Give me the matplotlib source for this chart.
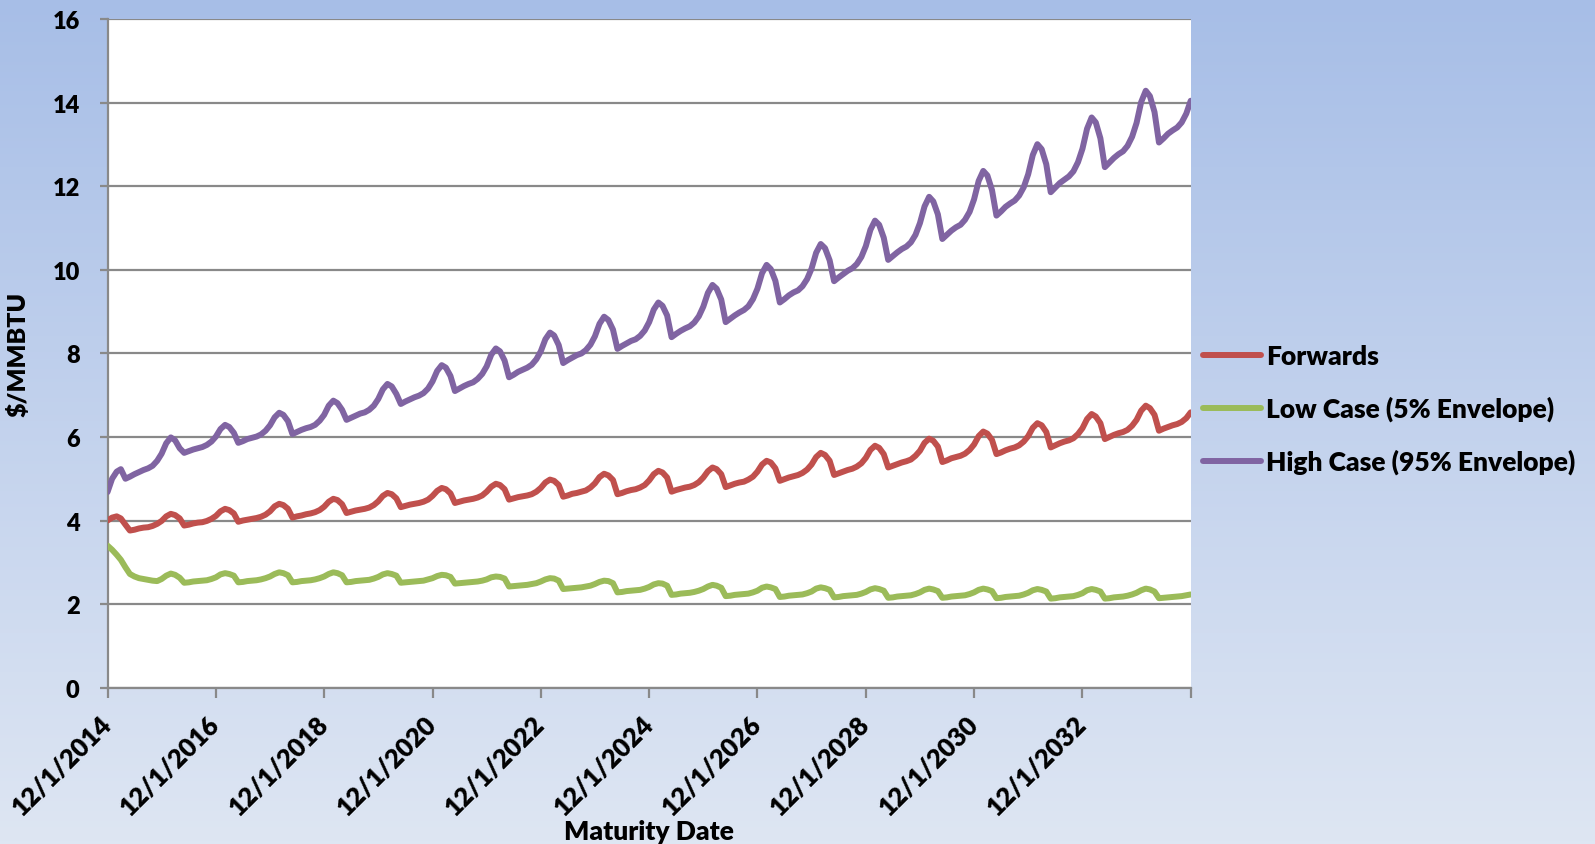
import numpy as np
import pandas as pd
import matplotlib
matplotlib.use('Agg')
import matplotlib.pyplot as plt

plt.rcParams['font.family'] = ['Lato', 'DejaVu Sans']
plt.rcParams['font.weight'] = 'heavy'
plt.rcParams['axes.labelweight'] = 'heavy'

# monthly maturities, 12/1/2014 .. 12/1/2034
dates = pd.date_range('2014-12-01', '2034-12-01', freq='MS')

forwards = [
    4.00, 4.07, 4.10, 4.05, 3.90,
    3.76, 3.78, 3.81, 3.83, 3.84, 3.87, 3.92, 3.99, 4.10, 4.16, 4.13, 4.05,
    3.88, 3.90, 3.93, 3.95, 3.96, 3.99, 4.04, 4.11, 4.22, 4.28, 4.25, 4.17,
    3.97, 4.00, 4.02, 4.04, 4.06, 4.09, 4.14, 4.22, 4.34, 4.40, 4.37, 4.28,
    4.07, 4.10, 4.12, 4.15, 4.17, 4.20, 4.25, 4.33, 4.45, 4.52, 4.49, 4.39,
    4.18, 4.21, 4.24, 4.26, 4.28, 4.31, 4.37, 4.46, 4.59, 4.66, 4.63, 4.53,
    4.32, 4.35, 4.38, 4.40, 4.42, 4.45, 4.50, 4.59, 4.71, 4.78, 4.75, 4.65,
    4.42, 4.45, 4.48, 4.50, 4.52, 4.55, 4.60, 4.69, 4.81, 4.88, 4.85, 4.75,
    4.50, 4.53, 4.56, 4.58, 4.60, 4.63, 4.69, 4.78, 4.91, 4.98, 4.95, 4.85,
    4.57, 4.60, 4.64, 4.66, 4.69, 4.72, 4.79, 4.89, 5.04, 5.12, 5.08, 4.97,
    4.63, 4.66, 4.70, 4.73, 4.75, 4.79, 4.85, 4.96, 5.11, 5.19, 5.15, 5.03,
    4.69, 4.73, 4.76, 4.79, 4.81, 4.85, 4.92, 5.03, 5.18, 5.27, 5.23, 5.11,
    4.80, 4.84, 4.88, 4.91, 4.93, 4.98, 5.05, 5.17, 5.34, 5.43, 5.39, 5.25,
    4.95, 4.99, 5.03, 5.06, 5.09, 5.14, 5.22, 5.34, 5.52, 5.62, 5.57, 5.43,
    5.09, 5.13, 5.17, 5.21, 5.24, 5.29, 5.37, 5.50, 5.69, 5.79, 5.74, 5.59,
    5.27, 5.31, 5.35, 5.39, 5.42, 5.46, 5.55, 5.67, 5.86, 5.96, 5.91, 5.77,
    5.40, 5.44, 5.49, 5.52, 5.55, 5.60, 5.69, 5.82, 6.02, 6.13, 6.08, 5.93,
    5.59, 5.63, 5.68, 5.72, 5.75, 5.80, 5.89, 6.02, 6.22, 6.33, 6.28, 6.12,
    5.75, 5.80, 5.85, 5.89, 5.92, 5.97, 6.07, 6.21, 6.43, 6.55, 6.49, 6.33,
    5.95, 6.00, 6.05, 6.09, 6.12, 6.17, 6.27, 6.41, 6.63, 6.75, 6.69, 6.53,
    6.15, 6.20, 6.24, 6.28, 6.31, 6.36, 6.45, 6.59,
]

low_case = [
    3.40, 3.30, 3.18, 3.06, 2.88,
    2.72, 2.66, 2.62, 2.60, 2.58, 2.56, 2.55, 2.60, 2.68, 2.73, 2.70, 2.63,
    2.51, 2.52, 2.54, 2.55, 2.56, 2.57, 2.60, 2.64, 2.71, 2.74, 2.72, 2.68,
    2.52, 2.53, 2.55, 2.56, 2.57, 2.59, 2.62, 2.66, 2.72, 2.76, 2.74, 2.69,
    2.52, 2.53, 2.55, 2.56, 2.57, 2.59, 2.62, 2.66, 2.72, 2.76, 2.74, 2.69,
    2.52, 2.53, 2.55, 2.56, 2.57, 2.58, 2.61, 2.65, 2.71, 2.74, 2.72, 2.68,
    2.51, 2.52, 2.53, 2.54, 2.55, 2.56, 2.59, 2.62, 2.67, 2.70, 2.69, 2.65,
    2.49, 2.50, 2.51, 2.52, 2.53, 2.54, 2.56, 2.59, 2.64, 2.66, 2.65, 2.61,
    2.42, 2.43, 2.44, 2.45, 2.46, 2.48, 2.50, 2.54, 2.59, 2.62, 2.61, 2.56,
    2.36, 2.37, 2.38, 2.39, 2.40, 2.42, 2.44, 2.48, 2.53, 2.56, 2.55, 2.50,
    2.28, 2.29, 2.31, 2.32, 2.33, 2.34, 2.37, 2.41, 2.47, 2.50, 2.49, 2.44,
    2.22, 2.23, 2.25, 2.26, 2.27, 2.29, 2.32, 2.36, 2.42, 2.46, 2.44, 2.39,
    2.19, 2.20, 2.22, 2.23, 2.24, 2.25, 2.28, 2.32, 2.39, 2.42, 2.40, 2.36,
    2.17, 2.18, 2.20, 2.21, 2.22, 2.23, 2.26, 2.30, 2.37, 2.40, 2.38, 2.34,
    2.16, 2.17, 2.19, 2.20, 2.21, 2.22, 2.25, 2.29, 2.35, 2.38, 2.36, 2.32,
    2.15, 2.16, 2.18, 2.19, 2.20, 2.21, 2.24, 2.28, 2.34, 2.37, 2.35, 2.31,
    2.15, 2.16, 2.18, 2.19, 2.20, 2.21, 2.24, 2.28, 2.34, 2.37, 2.35, 2.31,
    2.14, 2.15, 2.17, 2.18, 2.19, 2.20, 2.23, 2.27, 2.33, 2.36, 2.34, 2.30,
    2.13, 2.14, 2.16, 2.17, 2.18, 2.19, 2.22, 2.26, 2.33, 2.36, 2.34, 2.30,
    2.13, 2.14, 2.16, 2.17, 2.18, 2.20, 2.23, 2.27, 2.33, 2.37, 2.35, 2.30,
    2.14, 2.15, 2.16, 2.17, 2.18, 2.19, 2.21, 2.23,
]

high_case = [
    4.68, 5.00, 5.17, 5.23, 5.00,
    5.05, 5.11, 5.16, 5.21, 5.25, 5.31, 5.43, 5.60, 5.85, 5.99, 5.92, 5.73,
    5.62, 5.66, 5.70, 5.73, 5.76, 5.81, 5.89, 6.01, 6.19, 6.29, 6.24, 6.10,
    5.86, 5.90, 5.95, 5.98, 6.01, 6.06, 6.15, 6.28, 6.47, 6.58, 6.53, 6.38,
    6.07, 6.12, 6.17, 6.21, 6.24, 6.29, 6.39, 6.53, 6.75, 6.87, 6.81, 6.65,
    6.41, 6.46, 6.51, 6.56, 6.59, 6.65, 6.75, 6.91, 7.14, 7.27, 7.21, 7.03,
    6.79, 6.85, 6.90, 6.95, 6.99, 7.05, 7.16, 7.33, 7.58, 7.72, 7.66, 7.46,
    7.10, 7.16, 7.22, 7.27, 7.31, 7.39, 7.51, 7.69, 7.97, 8.12, 8.05, 7.83,
    7.43, 7.49, 7.56, 7.61, 7.66, 7.73, 7.86, 8.05, 8.34, 8.50, 8.43, 8.20,
    7.77, 7.84, 7.90, 7.96, 8.00, 8.08, 8.21, 8.41, 8.71, 8.88, 8.80, 8.57,
    8.11, 8.18, 8.24, 8.30, 8.34, 8.42, 8.55, 8.75, 9.05, 9.22, 9.14, 8.91,
    8.39, 8.47, 8.54, 8.60, 8.65, 8.74, 8.89, 9.12, 9.45, 9.64, 9.55, 9.29,
    8.75, 8.83, 8.91, 8.98, 9.04, 9.13, 9.30, 9.55, 9.92, 10.12, 10.02, 9.74,
    9.22, 9.30, 9.39, 9.46, 9.51, 9.61, 9.78, 10.03, 10.41, 10.62, 10.52, 10.23,
    9.73, 9.82, 9.90, 9.98, 10.04, 10.14, 10.31, 10.57, 10.96, 11.18, 11.08, 10.77,
    10.24, 10.33, 10.42, 10.50, 10.56, 10.66, 10.84, 11.12, 11.52, 11.75, 11.64, 11.33,
    10.74, 10.84, 10.94, 11.02, 11.08, 11.20, 11.39, 11.69, 12.13, 12.37, 12.26, 11.91,
    11.30, 11.40, 11.51, 11.59, 11.66, 11.78, 11.98, 12.29, 12.75, 13.01, 12.89, 12.53,
    11.86, 11.97, 12.08, 12.16, 12.24, 12.36, 12.58, 12.90, 13.38, 13.65, 13.53, 13.15,
    12.46, 12.57, 12.68, 12.77, 12.84, 12.97, 13.19, 13.52, 14.02, 14.29, 14.16, 13.78,
    13.05, 13.15, 13.26, 13.34, 13.41, 13.53, 13.74, 14.05,
]

series_names = ['Forwards', 'Low Case (5% Envelope)', 'High Case (95% Envelope)']
series_colors = ['#c0504d', '#9bbb59', '#8064a2']

tick_dates = pd.date_range('2014-12-01', '2034-12-01', freq='24MS')
tick_labels = [f'{d.month}/{d.day}/{d.year}' for d in tick_dates[:-1]] + ['']
y_ticks = [0, 2, 4, 6, 8, 10, 12, 14, 16]

W, H = 1595, 845
fig = plt.figure(figsize=(W / 100, H / 100), dpi=100)

# blue gradient backdrop
bg = fig.add_axes([0, 0, 1, 1])
top = np.array([167, 190, 231]) / 255
bot = np.array([222, 230, 243]) / 255
t = np.linspace(0, 1, 256)[:, None]
grad = top[None, :] * (1 - t) + bot[None, :] * t
bg.imshow(grad[:, None, :], aspect='auto', extent=[0, 1, 0, 1])
bg.axis('off')

x0, x1, y0, y1 = 107.5, 1190.7, 20.3, 688.6
ax = fig.add_axes([x0 / W, 1 - y1 / H, (x1 - x0) / W, (y1 - y0) / H])
ax.set_facecolor('white')

for vals, name, col in zip([forwards, low_case, high_case], series_names, series_colors):
    ax.plot(dates, vals, color=col, lw=4.3, label=name,
            solid_joinstyle='round', solid_capstyle='round', zorder=3)

gray = '#898989'
ax.set_xlim(dates[0], dates[-1])
ax.set_ylim(0, 16)
ax.set_yticks(y_ticks)
ax.set_xticks(tick_dates)
ax.set_xticklabels(tick_labels, rotation=45, ha='right', va='center',
                   rotation_mode='anchor')
ax.yaxis.grid(True, color=gray, lw=1.6)
ax.set_axisbelow(True)
for s in ['top', 'right']:
    ax.spines[s].set_visible(False)
for s in ['left', 'bottom']:
    ax.spines[s].set_color(gray)
    ax.spines[s].set_linewidth(1.6)
ax.tick_params(axis='x', direction='out', length=7, width=1.6, color=gray,
               pad=16, labelsize=18.5)
ax.tick_params(axis='y', direction='out', length=6, width=1.6, color=gray,
               pad=14, labelsize=17)

ax.set_ylabel(r'\$/MMBTU', fontsize=18, fontweight='heavy')
ax.yaxis.set_label_coords(-0.0716, 0.5)
ax.set_xlabel('Maturity Date', fontsize=19, fontweight='heavy', va='center')
ax.xaxis.set_label_coords(0.5, -0.2146)

fig.legend(loc='upper left', bbox_to_anchor=(1203 / W, 1 - 345 / H),
           frameon=False, handlelength=2.2, handletextpad=0.2,
           labelspacing=1.05, borderpad=0, borderaxespad=0,
           prop={'weight': 'heavy', 'size': 19})

fig.savefig('out.png', dpi=100)
